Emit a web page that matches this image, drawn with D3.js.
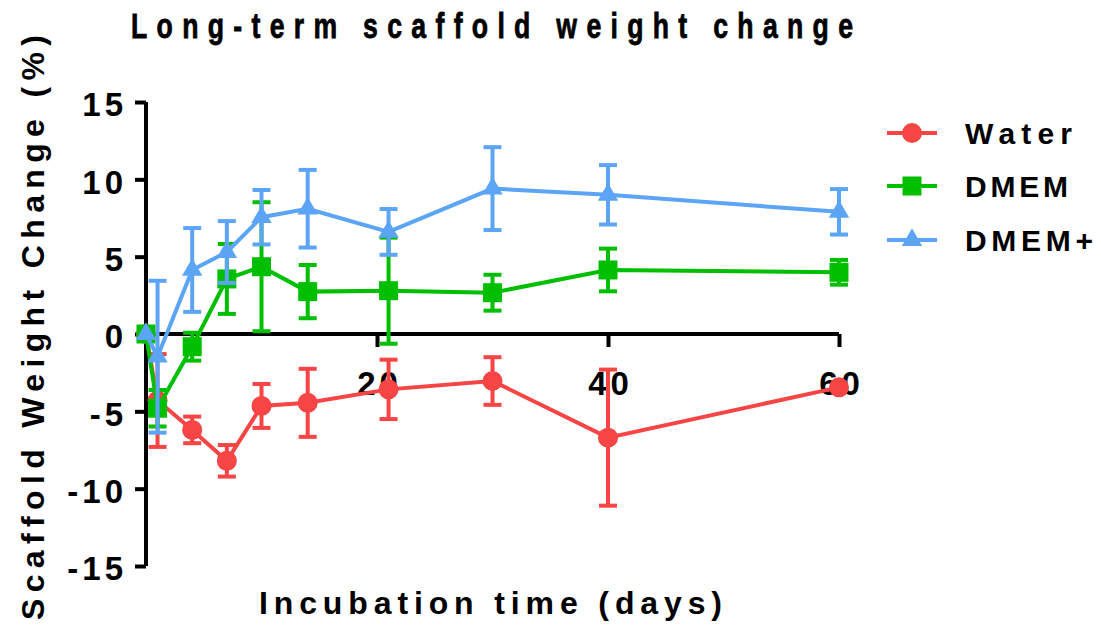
<!DOCTYPE html>
<html lang="en">
<head>
    <meta charset="utf-8">
    <title>Long-term scaffold weight change</title>
    <style>
        body {
            margin: 0;
            background: #fff;
        }
        text {
            font-family: "Liberation Sans", Arial, sans-serif;
            font-weight: bold;
            fill: #000;
        }
    </style>
</head>
<body>
<svg class="chart" width="1101" height="626"></svg>
<script src="https://d3js.org/d3.v7.min.js"></script>
<script>
    // days of incubation
    var days = [0, 1, 4, 7, 10, 14, 21, 30, 40, 60];
    // mean weight change (%) and error per series
    var waterMean = [0, -4.3, -6.2, -8.2, -4.65, -4.45, -3.58, -3.04, -6.7, -3.45];
    var waterErr  = [0, 3.0, 0.86, 1.02, 1.42, 2.2, 1.92, 1.54, 4.4, 0];
    var dmemMean  = [0, -4.8, -0.82, 3.56, 4.35, 2.74, 2.8, 2.67, 4.14, 3.99];
    var dmemErr   = [0, 1.18, 0.9, 2.26, 4.17, 1.72, 3.43, 1.16, 1.38, 0.8];
    var plusMean  = [0, -1.47, 4.14, 5.3, 7.55, 8.1, 6.6, 9.4, 9.0, 7.9];
    var plusErr   = [0, 4.91, 2.71, 2.0, 1.76, 2.51, 1.48, 2.68, 1.92, 1.47];

    var seriesNames = ["Water", "DMEM", "DMEM+"];
    var xTicks = [20, 40, 60];
    var yTicks = [-15, -10, -5, 0, 5, 10, 15];

    var colors = ["#f74444", "#00bf00", "#5ca4f5"];
    var shapes = [d3.symbolCircle, d3.symbolSquare, d3.symbolTriangle];
    var shapeSize = [314, 361, 180];

    var series = [
        {name: seriesNames[0], mean: waterMean, err: waterErr},
        {name: seriesNames[1], mean: dmemMean, err: dmemErr},
        {name: seriesNames[2], mean: plusMean, err: plusErr}
    ];

    const xScale = d3.scaleLinear().domain([0, 60]).range([146, 839]);
    const yScale = d3.scaleLinear().domain([-15, 15]).range([566, 102]);

    const svg = d3.select(".chart");

    // title: tall narrow glyphs, wide spacing
    var titleSqueeze = 0.74;
    svg.append("text")
        .attr("transform", "translate(131,38) scale(" + titleSqueeze + ",1)")
        .attr("textLength", 722 / titleSqueeze)
        .attr("lengthAdjust", "spacing")
        .attr("stroke", "#000")
        .attr("stroke-width", 0.8)
        .style("font-size", "36px")
        .text("Long-term scaffold weight change");

    // y axis
    const yAxis = d3.axisLeft(yScale).tickValues(yTicks).tickSize(11).tickFormat(d3.format("d"));
    var gy = svg.append("g")
        .attr("transform", "translate(" + xScale(0) + ",0)")
        .call(yAxis);
    gy.select(".domain").attr("d", "M0," + yScale(-15) + "V" + yScale(15));
    gy.selectAll("line, path").attr("stroke", "#000").attr("stroke-width", 4);
    gy.selectAll("text")
        .attr("x", -19)
        .attr("dy", "0.42em")
        .style("font-size", "33px")
        .style("letter-spacing", "4px")
        .text(function(d) { return d < 0 ? "-" + Math.abs(d) : d; });

    // x axis sits on zero
    const xAxis = d3.axisBottom(xScale).tickValues(xTicks).tickSize(13);
    var gx = svg.append("g")
        .attr("transform", "translate(0," + yScale(0) + ")")
        .call(xAxis);
    gx.select(".domain").attr("d", "M" + xScale(0) + ",0H" + xScale(60));
    gx.selectAll("line, path").attr("stroke", "#000").attr("stroke-width", 4);
    gx.selectAll("text")
        .attr("y", 49)
        .attr("dy", "0.36em")
        .attr("dx", "2px")
        .style("font-size", "33px")
        .style("letter-spacing", "4px");

    // axis titles
    svg.append("text")
        .attr("x", 259)
        .attr("y", 614)
        .attr("textLength", 463)
        .attr("lengthAdjust", "spacing")
        .style("font-size", "32px")
        .text("Incubation time (days)");

    svg.append("text")
        .attr("transform", "translate(44,620) rotate(-90)")
        .attr("textLength", 585)
        .attr("lengthAdjust", "spacing")
        .style("font-size", "32px")
        .text("Scaffold Weight Change (%)");

    // series
    var line = d3.line()
        .x(function(d) { return xScale(d.day); })
        .y(function(d) { return yScale(d.mean); });

    series.forEach(function(s, k) {
        var pts = days.map(function(day, i) {
            return {day: day, mean: s.mean[i], err: s.err[i]};
        });
        var g = svg.append("g").attr("class", "series");

        var bars = g.selectAll(".err")
            .data(pts.filter(function(d) { return d.err > 0; }))
            .enter().append("g")
            .attr("class", "err")
            .attr("stroke", colors[k])
            .attr("stroke-width", 4);
        bars.append("line")
            .attr("x1", function(d) { return xScale(d.day); })
            .attr("x2", function(d) { return xScale(d.day); })
            .attr("y1", function(d) { return yScale(d.mean + d.err); })
            .attr("y2", function(d) { return yScale(d.mean - d.err); });
        [1, -1].forEach(function(sign) {
            bars.append("line")
                .attr("x1", function(d) { return xScale(d.day) - 9; })
                .attr("x2", function(d) { return xScale(d.day) + 9; })
                .attr("y1", function(d) { return yScale(d.mean + sign * d.err); })
                .attr("y2", function(d) { return yScale(d.mean + sign * d.err); });
        });

        g.append("path")
            .datum(pts)
            .attr("fill", "none")
            .attr("stroke", colors[k])
            .attr("stroke-width", 4)
            .attr("d", line);

        g.selectAll(".mark")
            .data(pts)
            .enter().append("path")
            .attr("class", "mark")
            .attr("transform", function(d) { return "translate(" + xScale(d.day) + "," + yScale(d.mean) + ")"; })
            .attr("d", d3.symbol().type(shapes[k]).size(shapeSize[k]))
            .attr("fill", colors[k]);
    });

    // legend
    var legendY = [133, 186, 240];
    var legend = svg.selectAll(".legend")
        .data(series)
        .enter().append("g")
        .attr("class", "legend")
        .attr("transform", function(d, i) { return "translate(887," + legendY[i] + ")"; });
    legend.append("line")
        .attr("x1", 0)
        .attr("x2", 50)
        .attr("stroke", function(d, i) { return colors[i]; })
        .attr("stroke-width", 4);
    legend.append("path")
        .attr("transform", "translate(25,0)")
        .attr("d", function(d, i) { return d3.symbol().type(shapes[i]).size(shapeSize[i])(); })
        .attr("fill", function(d, i) { return colors[i]; });
    var legendLen = [107, 103, 128];
    legend.append("text")
        .attr("x", 78)
        .attr("dy", "0.36em")
        .attr("textLength", function(d, i) { return legendLen[i]; })
        .attr("lengthAdjust", "spacing")
        .style("font-size", "30px")
        .text(function(d) { return d.name; });
</script>
</body>
</html>
